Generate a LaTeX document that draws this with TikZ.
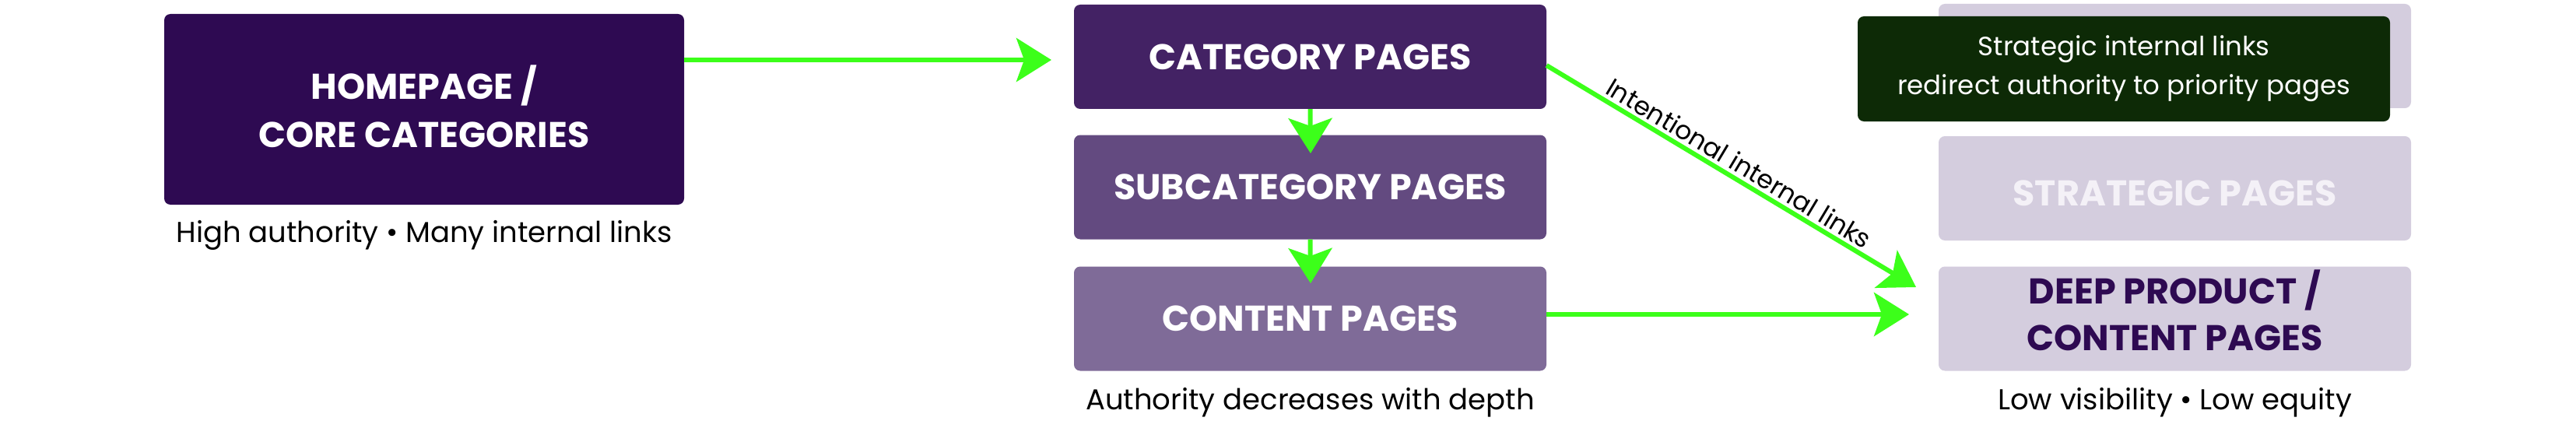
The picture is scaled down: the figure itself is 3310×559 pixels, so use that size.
\documentclass[tikz,border=0pt]{standalone}
\usepackage{fontspec}
\setmainfont{Poppins}
\usetikzlibrary{arrows.meta}
\definecolor{homec}{HTML}{2E0A52}
\definecolor{catc}{HTML}{432264}
\definecolor{subc}{HTML}{634A80}
\definecolor{contc}{HTML}{7F6B98}
\definecolor{lightc}{HTML}{D4CDDE}
\definecolor{greenbox}{HTML}{0D2A06}
\definecolor{arrowgreen}{HTML}{3CFF1A}
\definecolor{paletext}{HTML}{F4F1F7}
\begin{document}
\begin{tikzpicture}[x=1pt,y=-1pt,
  box/.style={rounded corners=8pt, inner sep=0pt, align=center, text=white,
    font=\fontsize{46}{62}\selectfont\bfseries},
  colbox/.style={box, minimum width=607pt, minimum height=134pt},
  boxtxt/.style={inner sep=0pt, align=center, text=white, font=\fontsize{46}{62}\selectfont\bfseries},
  captxt/.style={font=\fontsize{37}{44}\selectfont, text=black, inner sep=0pt},
  arr/.style={draw=arrowgreen, line width=6pt, -{Stealth[length=45pt,width=56pt,inset=10pt]}}]
\useasboundingbox[fill=white] (0,0) rectangle (3310,559);

% left
\node[box, fill=homec, minimum width=668pt, minimum height=245pt] (home) at (545,140.5) {};
\node[boxtxt] (hometxt) at (545,137) {HOMEPAGE /\\CORE CATEGORIES};
\node[captxt] (homecap) at (545,302) {High authority • Many internal links};

% middle column
\node[colbox, fill=catc] (cat) at (1683.5,73) {CATEGORY PAGES};
\node[colbox, fill=subc] (sub) at (1683.5,240.5) {SUBCATEGORY PAGES};
\node[colbox, fill=contc] (cont) at (1683.5,409.5) {CONTENT PAGES};
\node[captxt] (midcap) at (1683.5,517) {Authority decreases with depth};

% right column
\node[colbox, fill=lightc] (topr) at (2794.5,72) {};
\node[box, fill=greenbox, minimum width=684pt, minimum height=135pt] (note) at (2729,88.5) {};
\node[boxtxt, font=\fontsize{34}{50}\selectfont] (notetxt) at (2729,88) {Strategic internal links\\redirect authority to priority pages};
\node[colbox, fill=lightc] (strat) at (2794.5,242) {};
\node[boxtxt, text=paletext] (strattxt) at (2794.5,248) {STRATEGIC PAGES};
\node[colbox, fill=lightc] (deep) at (2794.5,409.5) {};
\node[boxtxt, text=homec, font=\fontsize{46}{60}\selectfont\bfseries] (deeptxt) at (2794.5,399) {DEEP PRODUCT /\\CONTENT PAGES};
\node[captxt] (rightcap) at (2794.5,517) {Low visibility • Low equity};

% connectors
\coordinate (a1) at (1351,77);
\coordinate (d1) at (1684,197);
\coordinate (d2) at (1684,364);
\coordinate (g1) at (2462,369);
\coordinate (h1) at (2453,404);
\draw[arr] (home.east |- a1) -- (a1);
\draw[arr] (cat.south) -- (d1);
\draw[arr] (sub.south) -- (d2);
\draw[arr] ([yshift=-11pt]cat.east) -- node[midway, sloped, above=4pt, font=\fontsize{33}{36}\selectfont, text=black, inner sep=0pt] (diaglbl) {Intentional internal links} (g1);
\draw[arr] (cont.east |- h1) -- (h1);
\end{tikzpicture}
\end{document}
